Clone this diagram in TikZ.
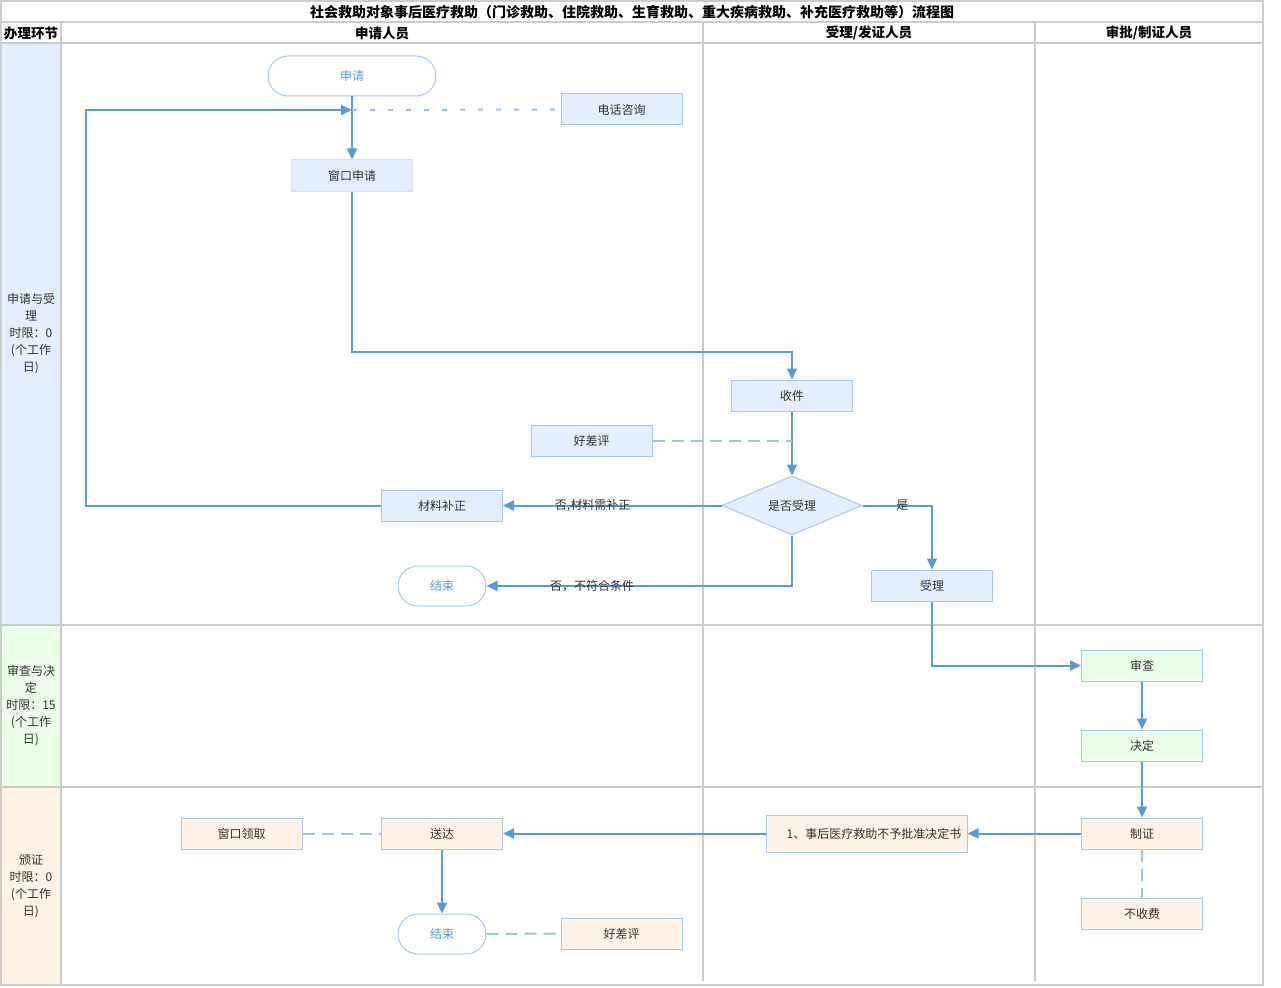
\documentclass[tikz,border=0pt]{standalone}
\usepackage{fontspec}
\setmainfont{Noto Sans CJK SC}
\usetikzlibrary{shapes.geometric,arrows.meta}
\definecolor{gridc}{HTML}{CCCCCC}
\definecolor{lineb}{HTML}{5B9BD5}
\definecolor{dashc}{HTML}{9DC3E6}
\definecolor{nodeb}{HTML}{A9C8EA}
\definecolor{bfill}{HTML}{E5EEFE}
\definecolor{gfill}{HTML}{EBFEE8}
\definecolor{ofill}{HTML}{FFF2E6}
\definecolor{txt}{HTML}{333333}
\newcommand\nfs{\fontsize{12}{14}\selectfont}
\begin{document}
\begin{tikzpicture}[x=1pt,y=-1pt,
  grid/.style={draw=gridc,line width=2pt},
  hdr/.style={font=\fontsize{13.5}{15}\selectfont\bfseries,text=black,inner sep=0pt},
  lane/.style={font=\fontsize{12}{17}\selectfont,text=txt,align=center,inner sep=0pt},
  box/.style={draw=nodeb,line width=1pt,minimum width=121pt,minimum height=31pt,inner sep=0pt,font=\nfs,text=txt},
  bluebox/.style={box,fill=bfill},
  greenbox/.style={box,fill=gfill},
  orangebox/.style={box,fill=ofill},
  term/.style={draw=nodeb,line width=1pt,fill=white,rounded corners=20pt,minimum height=40pt,inner sep=0pt,font=\nfs,text=lineb},
  decision/.style={diamond,draw=nodeb,line width=1pt,fill=bfill,minimum width=140pt,minimum height=59pt,inner sep=0pt,aspect=2.4,font=\nfs,text=txt},
  flow/.style={draw=lineb,line width=2pt,-{Triangle[length=11pt,width=10pt]}},
  dline/.style={draw=dashc,line width=2pt,dash pattern=on 12pt off 7pt},
  dotline/.style={draw=dashc,line width=2pt,dash pattern=on 5pt off 13pt},
  lbl/.style={font=\nfs,text=txt,inner sep=0pt}
]
\useasboundingbox (0,0) rectangle (1281,987);
% lane label fills
\fill[bfill] (1,43) rectangle (61,625);
\fill[gfill] (1,625) rectangle (61,787);
\fill[ofill] (1,787) rectangle (61,985);
% grid
\draw[grid] (1,1) rectangle (1263,985);
\draw[grid] (1,22) -- (1263,22);
\draw[grid] (1,43) -- (1263,43);
\draw[grid] (1,625) -- (1263,625);
\draw[grid] (1,787) -- (1263,787);
\draw[grid] (61,22) -- (61,985);
\draw[grid] (703,22) -- (703,981);
\draw[grid] (1035,22) -- (1035,981);
% headers
\node[hdr,font=\fontsize{14}{16}\selectfont\bfseries] (title) at (632,12) {社会救助对象事后医疗救助（门诊救助、住院救助、生育救助、重大疾病救助、补充医疗救助等）流程图};
\node[hdr] (h0) at (31,33) {办理环节};
\node[hdr] (h1) at (382,33) {申请人员};
\node[hdr] (h2) at (869,33) {受理/发证人员};
\node[hdr] (h3) at (1149,33) {审批/制证人员};
% lane labels
\node[lane] (l1) at (31,334) {申请与受\\理\\时限：0\\(个工作\\日)};
\node[lane] (l2) at (31,706) {审查与决\\定\\时限：15\\(个工作\\日)};
\node[lane] (l3) at (31,886) {颁证\\时限：0\\(个工作\\日)};
% nodes
\node[term,minimum width=168pt] (sq) at (352,76) {申请};
\node[bluebox] (dh) at (621.5,109.5) {电话咨询};
\node[bluebox,draw=gridc!60] (ck) at (352,175.5) {窗口申请};
\node[bluebox] (sj) at (792,395.5) {收件};
\node[bluebox] (hp1) at (591.5,440.5) {好差评};
\node[decision] (dia) at (792,505.5) {是否受理};
\node[bluebox] (cl) at (442,505.5) {材料补正};
\node[term,minimum width=88pt] (end1) at (442,586) {结束};
\node[bluebox] (sl) at (932,585.5) {受理};
\node[greenbox] (sc) at (1142,665.5) {审查};
\node[greenbox] (jd) at (1142,745.5) {决定};
\node[orangebox] (zz) at (1142,833.5) {制证};
\node[orangebox] (bsf) at (1142,913.5) {不收费};
\node[orangebox,minimum width=201pt,minimum height=37pt] (ws) at (866.5,833.5) {\hspace*{15pt}1、事后医疗救助不予批准决定书};
\node[orangebox] (sd) at (442,833.5) {送达};
\node[orangebox] (lq) at (241.5,833.5) {窗口领取};
\node[term,minimum width=88pt] (end2) at (442,934) {结束};
\node[orangebox] (hp2) at (621.5,933.5) {好差评};
% connectors
\coordinate (j1) at (352,110);
\draw[flow] (sq.south) -- (ck.north);
\draw[flow] (cl.west) -- ++(-295,0) |- (j1);
\draw[dotline] (j1) -- (dh.west);
\draw[flow] (ck.south) -- ++(0,160) -| (sj.north);
\draw[flow] (sj.south) -- (dia.north);
\coordinate (j2) at (sj.south |- hp1.east);
\draw[dline] (hp1.east) -- (j2);
\draw[flow] (dia.west) -- node[lbl,pos=0.59]{否,材料需补正} (cl.east);
\draw[flow] (dia.south) |- node[lbl,pos=0.827]{否，不符合条件} (end1.east);
\draw[flow] (dia.east) -| node[lbl,pos=0.286]{是} (sl.north);
\draw[flow] (sl.south) |- (sc.west);
\draw[flow] (sc.south) -- (jd.north);
\draw[flow] (jd.south) -- (zz.north);
\draw[flow] (zz.west) -- (ws.east);
\draw[flow] (ws.west) -- (sd.east);
\draw[dline] (lq.east) -- (sd.west);
\draw[flow] (sd.south) -- (end2.north);
\draw[dline] (end2.east) -- (hp2.west);
\draw[dline] (zz.south) -- (bsf.north);
\end{tikzpicture}
\end{document}
